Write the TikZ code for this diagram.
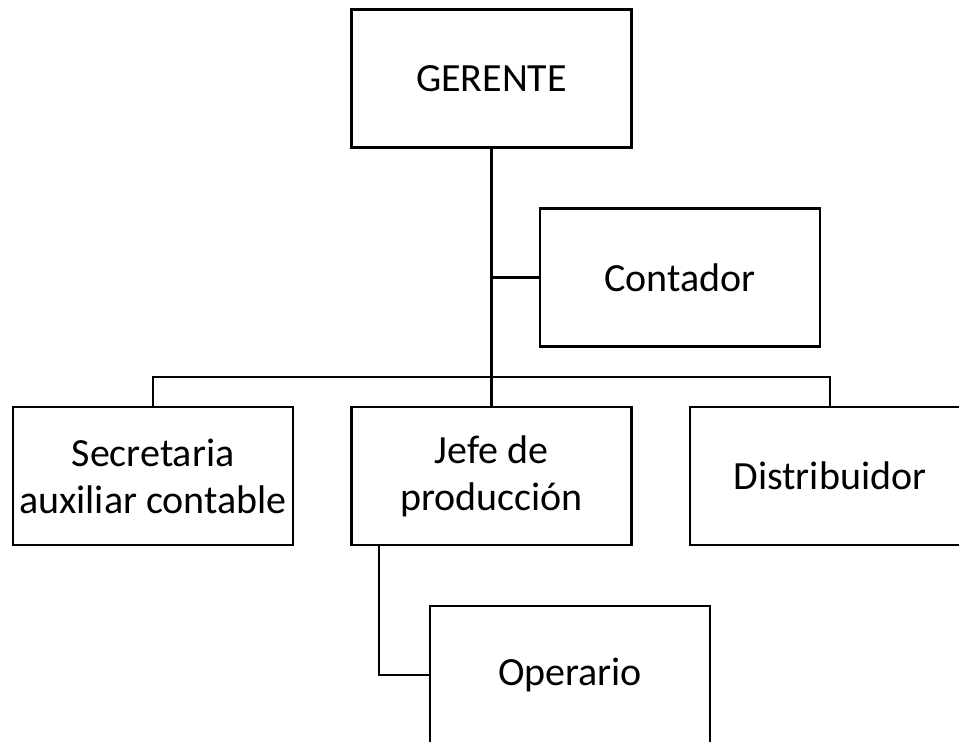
\documentclass[tikz,border=0pt]{standalone}
\usepackage{fontspec}
\setmainfont{Carlito}
\usepackage{tikz}
\tikzset{
    org-box/.style = {draw=black, fill=white, line width=2.4pt, rectangle, minimum width=280pt, minimum height=138pt, align=center, inner sep=0pt, font=\fontsize{40}{47}\selectfont},
    org-line/.style = {draw=black, line width=2.2pt},
    main-line/.style = {draw=black, line width=3.2pt},
}

\begin{document}
\begin{tikzpicture}[x=1pt, y=-1pt]
\clip (0,0) rectangle (959,742);
\fill[white] (0,0) rectangle (959,742);
\node [org-box] (gerente) at (491.5,78.5) {GERENTE};
\node [org-box] (contador) at (680,277.5) {Contador};
\node [org-box] (secretaria) at (153,476) {Secretaria\\auxiliar contable};
\node [org-box] (jefe) at (491.5,476) {Jefe de\\producción};
\node [org-box] (distribuidor) at (830,476) {Distribuidor};
\node [org-box] (operario) at (570,675) {Operario};
\coordinate (bus) at (491.5,377);
\draw [main-line] (gerente.south) -- (bus);
\draw [org-line] (gerente.south |- contador.west) -- (contador.west);
\draw [org-line] (secretaria.north) |- (bus) -| (distribuidor.north);
\draw [org-line] (bus) -- (jefe.north);
\draw [org-line] ([xshift=29pt]jefe.south west) |- (operario.west);
\end{tikzpicture}
\end{document}
